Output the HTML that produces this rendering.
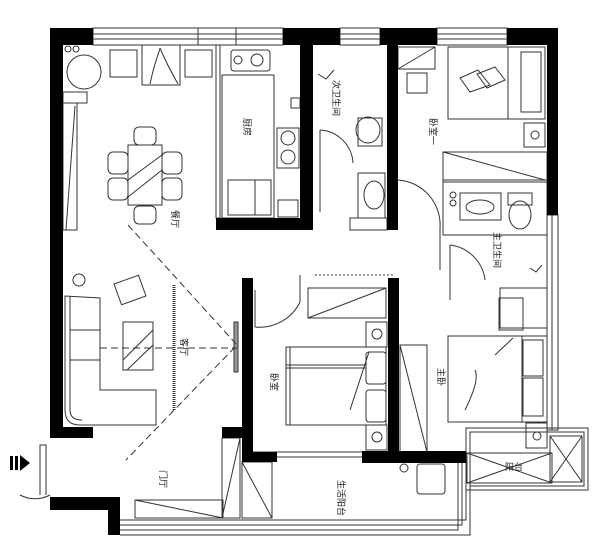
<!DOCTYPE html>
<html><head><meta charset="utf-8"><style>
html,body{margin:0;padding:0;background:#fff;width:600px;height:550px;overflow:hidden}
svg{display:block}
text{font-family:"Liberation Sans","Noto Sans CJK SC",sans-serif;font-size:9px;fill:#222}
</style></head><body>
<svg width="600" height="550" viewBox="0 0 600 550" xmlns="http://www.w3.org/2000/svg">
<g fill="none" stroke="#333" stroke-width="1">
<!-- windows top -->
<rect x="93" y="28" width="190" height="17"/><line x1="93" y1="34" x2="283" y2="34"/><line x1="93" y1="39" x2="283" y2="39"/>
<line x1="198" y1="28" x2="198" y2="45"/><line x1="236" y1="28" x2="236" y2="45"/>
<rect x="340" y="28" width="40" height="17"/><line x1="340" y1="34" x2="380" y2="34"/><line x1="340" y1="39" x2="380" y2="39"/>
<rect x="437" y="28" width="70" height="17"/><line x1="437" y1="34" x2="507" y2="34"/><line x1="437" y1="39" x2="507" y2="39"/>
<!-- right outer thin wall -->
<rect x="547" y="215" width="11" height="215"/><line x1="552" y1="215" x2="552" y2="430"/>
<!-- right balcony -->
<rect x="466" y="428" width="122" height="62"/><rect x="470" y="432" width="114" height="54"/>
<rect x="467" y="453" width="85" height="30"/><line x1="467" y1="453" x2="552" y2="483"/><line x1="467" y1="483" x2="552" y2="453"/>
<rect x="550" y="436" width="32" height="46"/><line x1="550" y1="436" x2="582" y2="482"/><line x1="582" y1="436" x2="550" y2="482"/>
<!-- bottom balcony -->
<path d="M120 520 H466 V462 M120 525 H462 V462 M120 530 H458 V462 M120 535 H470 V462"/>
<rect x="135" y="500" width="88" height="18"/><line x1="135" y1="500" x2="223" y2="518"/>
<rect x="222" y="438" width="18" height="80"/><line x1="240" y1="438" x2="222" y2="518"/>
<rect x="242" y="462" width="30" height="56"/><line x1="242" y1="462" x2="272" y2="518"/>
<rect x="417" y="464" width="28" height="30" rx="3"/><circle cx="404" cy="468" r="4"/>
<!-- left cabinet -->
<rect x="63" y="92" width="24" height="11"/><rect x="63" y="103" width="14" height="127"/><line x1="66" y1="230" x2="75" y2="106"/>
<circle cx="84" cy="72" r="17"/><circle cx="68" cy="49" r="3"/><circle cx="76" cy="49" r="3"/>
<!-- top furniture -->
<rect x="110" y="50" width="27" height="27"/><rect x="142" y="45" width="38" height="40"/><path d="M150 84 C155 60 160 50 160 48 C165 60 170 70 178 84"/><rect x="185" y="50" width="27" height="27"/>
<!-- partition kitchen -->
<rect x="216" y="45" width="4" height="173"/>
<rect x="231" y="50" width="39" height="21" rx="3"/><circle cx="238" cy="60" r="4"/><circle cx="257" cy="60" r="6"/>
<rect x="222" y="75" width="52" height="143"/>
<rect x="277" y="128" width="22" height="40"/><circle cx="288" cy="138" r="7"/><circle cx="288" cy="157" r="7"/>
<rect x="291" y="98" width="9" height="10"/>
<rect x="228" y="180" width="43" height="35"/><line x1="255" y1="180" x2="255" y2="215"/>
<rect x="278" y="200" width="20" height="17"/>
<!-- dining -->
<rect x="128" y="145" width="34" height="60"/><line x1="128" y1="180" x2="162" y2="155"/><line x1="128" y1="197" x2="162" y2="170"/>
<rect x="134" y="127" width="22" height="18" rx="5"/><rect x="134" y="206" width="22" height="18" rx="5"/>
<rect x="108" y="152" width="20" height="22" rx="5"/><rect x="108" y="178" width="20" height="22" rx="5"/>
<rect x="162" y="152" width="20" height="22" rx="5"/><rect x="162" y="178" width="20" height="22" rx="5"/>
<!-- living -->
<path d="M65 296 V410 Q65 425 80 425 H156 V390 H100 V298 Z"/><path d="M70 296 V410 Q70 420 82 420"/>
<line x1="70" y1="330" x2="100" y2="330"/><line x1="70" y1="360" x2="100" y2="360"/>
<rect x="123" y="322" width="30" height="48"/><line x1="123" y1="360" x2="153" y2="330"/><line x1="127" y1="370" x2="153" y2="345"/>
<rect x="117" y="279" width="26" height="22" transform="rotate(-20 130 290)"/>
<circle cx="79" cy="280" r="6"/>
<line x1="174" y1="285" x2="174" y2="410" stroke-width="3" stroke-dasharray="1 1"/>
<rect x="234" y="322" width="4" height="50" fill="#999"/>
<path d="M128 225 L237 345 L126 460 M100 348 H237" stroke-dasharray="7 4"/>
<!-- entrance door -->
<path d="M50 495 A32 32 0 0 1 20 495 M46 495 V495 L46 445 H40 V495" />
<!-- bathroom1 -->
<path d="M320 130 V212 M320 130 A35 35 0 0 1 353 163"/>
<rect x="358" y="118" width="24" height="28"/><ellipse cx="368" cy="130" rx="12" ry="13"/>
<rect x="358" y="173" width="27" height="45"/><ellipse cx="374" cy="195" rx="10" ry="14"/>
<rect x="350" y="218" width="37" height="12"/>
<path d="M318 74 L326 79 L334 70"/>
<!-- bedroom1 -->
<rect x="398" y="47" width="37" height="22"/><line x1="398" y1="69" x2="435" y2="47"/>
<rect x="407" y="73" width="20" height="20"/>
<rect x="448" y="47" width="97" height="72"/><line x1="508" y1="47" x2="508" y2="119"/><rect x="521" y="52" width="20" height="60"/>
<path d="M460 78 L478 70 L490 85 L470 92 Z M477 74 L495 67 L505 80 L487 88 Z"/>
<rect x="524" y="123" width="21" height="24"/><circle cx="535" cy="135" r="4"/>
<rect x="443" y="152" width="104" height="30"/><line x1="443" y1="152" x2="545" y2="180"/>
<!-- bathroom2 -->
<rect x="443" y="180" width="104" height="55"/>
<rect x="460" y="193" width="41" height="27"/><ellipse cx="480" cy="207" rx="14" ry="7"/>
<circle cx="453" cy="195" r="3"/><circle cx="453" cy="203" r="3"/>
<rect x="508" y="193" width="24" height="12"/><ellipse cx="520" cy="215" rx="11" ry="14"/>
<path d="M398 180 A45 45 0 0 1 440 228 M440 228 V270" />
<path d="M450 245 V300 M450 245 A40 40 0 0 1 485 280"/>
<path d="M530 268 L536 272 L542 265"/>
<!-- bedroom2 (right bottom) -->
<rect x="500" y="288" width="47" height="40"/><rect x="499" y="298" width="24" height="32"/>
<rect x="448" y="336" width="99" height="86"/><line x1="522" y1="336" x2="522" y2="422"/><rect x="523" y="340" width="20" height="36"/><rect x="523" y="378" width="20" height="38"/>
<path d="M465 410 Q480 380 475 370 M495 355 L513 338"/>
<rect x="526" y="423" width="21" height="25"/><circle cx="537" cy="436" r="4"/>
<rect x="400" y="345" width="27" height="107"/><line x1="400" y1="345" x2="427" y2="452"/>
<!-- bedroom3 middle -->
<rect x="308" y="288" width="78" height="30"/><line x1="308" y1="318" x2="386" y2="288"/>
<path d="M300 275 V302 M300 302 A45 45 0 0 1 255 327 M255 327 V290"/>
<rect x="366" y="322" width="21" height="25"/><circle cx="377" cy="334" r="5"/>
<rect x="366" y="425" width="21" height="25"/><circle cx="377" cy="437" r="5"/>
<rect x="286" y="347" width="100" height="78"/><rect x="366" y="352" width="20" height="32" rx="3"/><rect x="366" y="390" width="20" height="32" rx="3"/>
<line x1="290" y1="347" x2="290" y2="425"/><line x1="286" y1="365" x2="366" y2="365"/><line x1="286" y1="368" x2="366" y2="368"/>
<path d="M350 410 L369 352"/>
<line x1="253" y1="452" x2="362" y2="452"/><line x1="253" y1="457" x2="362" y2="457"/>
<line x1="315" y1="275" x2="395" y2="275" stroke-dasharray="2 2"/>
</g>
<!-- entrance arrow -->
<g fill="#000"><rect x="10" y="456" width="3" height="14"/><rect x="15" y="456" width="3" height="14"/><path d="M20 455 L30 463 L20 471 Z"/></g>
<!-- walls -->
<g fill="#000">
<rect x="50" y="28" width="43" height="17"/><rect x="50" y="28" width="13" height="410"/><rect x="50" y="427" width="43" height="11"/>
<rect x="50" y="497" width="70" height="13"/><rect x="108" y="497" width="12" height="38"/>
<rect x="283" y="28" width="57" height="17"/><rect x="300" y="28" width="13" height="202"/><rect x="216" y="218" width="97" height="12"/>
<rect x="380" y="28" width="57" height="17"/><rect x="387" y="28" width="11" height="202"/>
<rect x="507" y="28" width="51" height="17"/><rect x="547" y="28" width="11" height="187"/>
<rect x="242" y="278" width="11" height="184"/><rect x="242" y="452" width="35" height="10"/><rect x="222" y="427" width="20" height="11"/>
<rect x="388" y="278" width="11" height="185"/><rect x="362" y="451" width="104" height="12"/>
</g>
<g>
<text x="244" y="118" transform="rotate(90 244 118)">厨房</text>
<text x="172" y="210" transform="rotate(90 172 210)">餐厅</text>
<text x="333" y="80" transform="rotate(90 333 80)">次卫生间</text>
<text x="430" y="118" transform="rotate(90 430 118)">卧室一</text>
<text x="494" y="232" transform="rotate(90 494 232)">主卫生间</text>
<text x="181" y="338" transform="rotate(90 181 338)">客厅</text>
<text x="271" y="373" transform="rotate(90 271 373)">卧室</text>
<text x="438" y="368" transform="rotate(90 438 368)">主卧</text>
<text x="160" y="470" transform="rotate(90 160 470)">门厅</text>
<text x="338" y="480" transform="rotate(90 338 480)">生活阳台</text>
<text x="505" y="470">阳台</text>
</g>
</svg>
</body></html>
